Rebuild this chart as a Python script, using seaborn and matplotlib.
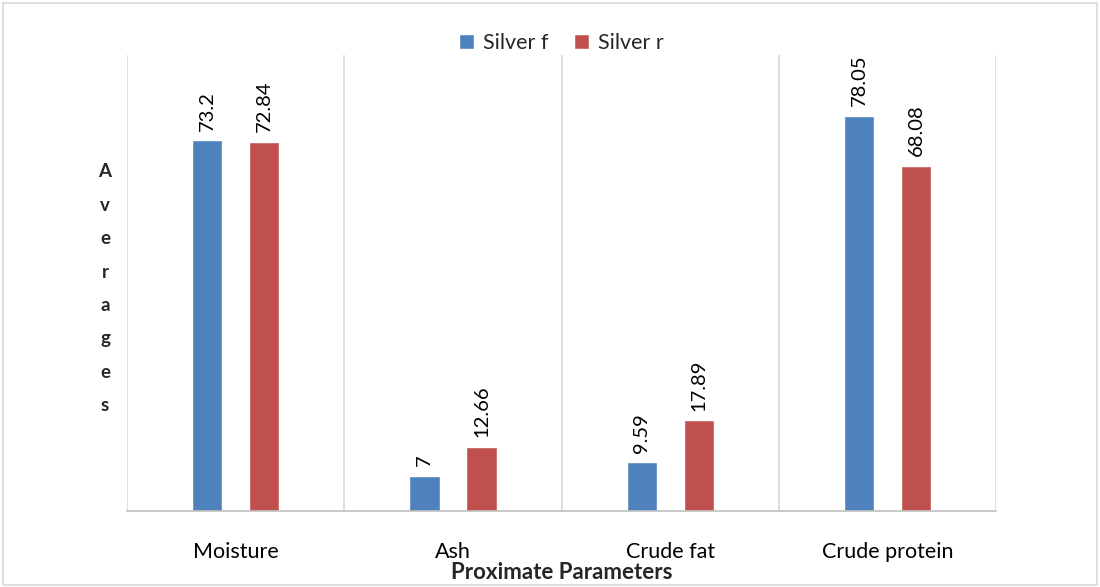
import matplotlib
matplotlib.use("Agg")
import matplotlib.pyplot as plt
import seaborn as sns
import pandas as pd
from matplotlib.patches import Rectangle

categories = ["Moisture", "Ash", "Crude fat", "Crude protein"]
silver_f = [73.2, 7, 9.59, 78.05]
silver_r = [72.84, 12.66, 17.89, 68.08]
series_names = ["Silver f", "Silver r"]
colors = ["#4F81BD", "#C0504D"]

df = pd.DataFrame({
    "Parameter": categories * 2,
    "Value": silver_f + silver_r,
    "Series": [series_names[0]] * 4 + [series_names[1]] * 4,
})

sns.set_theme(style="white")
plt.rcParams['font.family'] = ['Lato', 'DejaVu Sans']

fig = plt.figure(figsize=(11, 5.87), dpi=100)
ax = fig.add_axes([0.1155, 0.1295, 0.79, 0.7765])

sns.barplot(data=df, x="Parameter", y="Value", hue="Series", palette=colors,
            width=0.525, gap=0.47, ax=ax, saturation=1)

for c in ax.containers:
    labels = [("%g" % v) for v in c.datavalues]
    ax.bar_label(c, labels=labels, rotation=90, padding=7, fontsize=14.5, color="#000000")

ax.set_ylim(0, 90)
ax.set_xlim(-0.5, 3.5)
ax.set_yticks([])
for x in [-0.5, 0.5, 1.5, 2.5, 3.5]:
    ax.axvline(x, color="#D9D9D9", lw=1.2, zorder=0)
for s in ["top", "right", "left"]:
    ax.spines[s].set_visible(False)
ax.spines["bottom"].set_color("#BFBFBF")
ax.spines["bottom"].set_linewidth(1.2)
ax.tick_params(axis="x", length=0, pad=22, labelsize=15.5, colors="#000000")
ax.set_xlabel("Proximate Parameters", fontsize=16, fontweight="bold", labelpad=0)
ax.set_ylabel("")
fig.text(0.0955, 0.508, "\n".join("Averages"), ha="center", va="center",
         fontsize=13.5, fontweight="bold", linespacing=2.17)

ax.legend(loc="lower center", bbox_to_anchor=(0.5, 0.985), ncol=2, frameon=False,
          fontsize=15.5, handlelength=0.7, handleheight=0.7, handletextpad=0.4,
          columnspacing=1.2, borderaxespad=0)

fig.patches.append(Rectangle((0.003, 0.003), 0.994, 0.992, transform=fig.transFigure,
                             fill=False, edgecolor="#D9D9D9", lw=1.2))

fig.savefig("out.png", dpi=100)
